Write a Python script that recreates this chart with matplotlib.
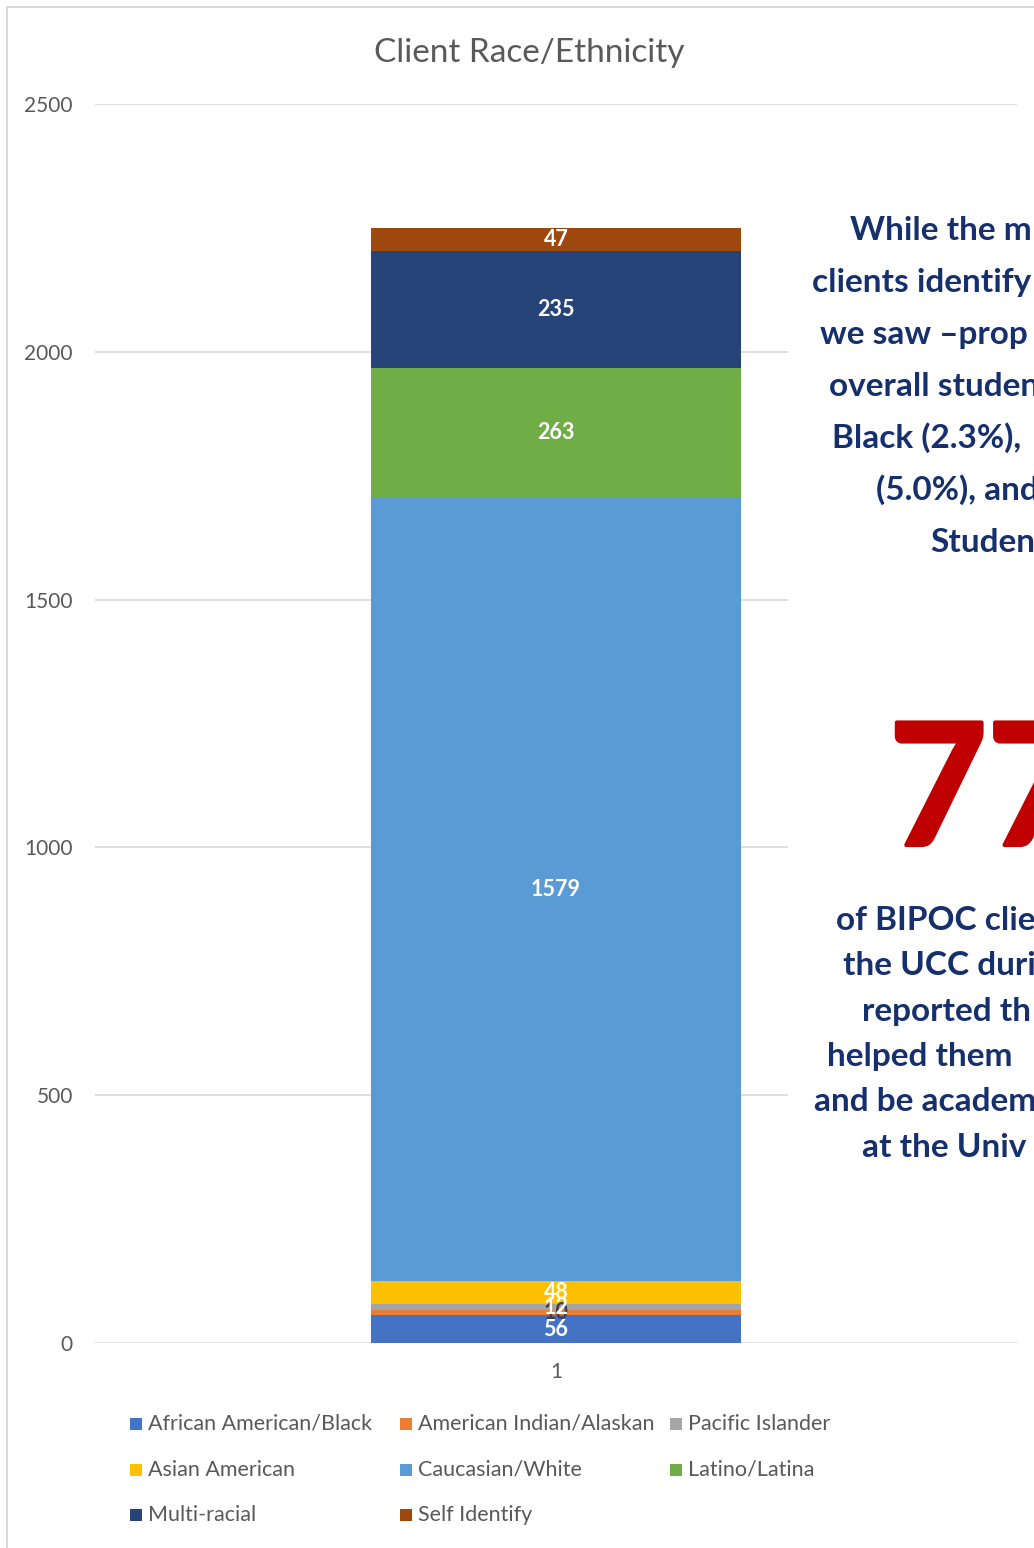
import matplotlib
matplotlib.use("Agg")
import matplotlib.pyplot as plt
from matplotlib.patches import Rectangle

plt.rcParams['font.family'] = ['Lato', 'DejaVu Sans']

# Client counts by race/ethnicity, stacked bottom to top
categories = ["African American/Black", "American Indian/Alaskan", "Pacific Islander",
              "Asian American", "Caucasian/White", "Latino/Latina",
              "Multi-racial", "Self Identify"]
counts = [56, 10, 12, 48, 1579, 263, 235, 47]
colors = ["#4472C4", "#ED7D31", "#A5A5A5", "#FFC000", "#5B9BD5",
          "#70AD47", "#264478", "#9E480E"]
label_colors = ["white", "#404040", "white", "white", "white", "white", "white", "white"]
x_labels = ["1"]
y_ticks = [0, 500, 1000, 1500, 2000, 2500]

# Legend order as it reads row by row
legend_order = [0, 1, 2, 3, 4, 5, 6, 7]

callout_top = ["While the m", "clients identify", "we saw \u2013prop", "overall studen",
               "Black (2.3%),", "(5.0%), and", "Studen"]
callout_big = "77"
callout_bottom = ["of BIPOC clie", "the UCC duri", "reported th", "helped them",
                  "and be academ", "at the Univ"]

W, H = 1034, 1548
fig = plt.figure(figsize=(W / 100, H / 100), dpi=100)
fig.patch.set_facecolor("white")

def fx(px):
    return px / W

def fy(py):
    return 1 - py / H

ax = fig.add_axes([fx(95), fy(1343), fx(1017) - fx(95), fy(104) - fy(1343)])
ax.set_ylim(0, 2500)
ax.set_xlim(-0.5, 0.5)

bottom = 0
for val, col, lc in zip(counts, colors, label_colors):
    bars = ax.bar(0, val, width=0.401, bottom=bottom, color=col, zorder=3)
    ax.bar_label(bars, labels=[str(val)], label_type="center", color=lc,
                 fontsize=15.5, fontweight="bold", zorder=4)
    bottom += val

ax.set_yticks(y_ticks)
ax.set_yticklabels([str(t) for t in y_ticks], color="#595959", fontsize=15)
ax.set_xticks([0])
ax.set_xticklabels(x_labels, color="#595959", fontsize=15)
ax.tick_params(axis="both", length=0)
ax.tick_params(axis="y", pad=16)
ax.tick_params(axis="x", pad=14)
ax.grid(axis="y", color="#D9D9D9", linewidth=1.2, zorder=0)
for s in ax.spines.values():
    s.set_visible(False)

fig.text(fx(529), fy(53), "Client Race/Ethnicity", ha="center", va="center",
         fontsize=24, color="#595959")

# Chart border
fig.patches.append(Rectangle((fx(7), fy(1560)), fx(1100), fy(7) - fy(1560),
                             transform=fig.transFigure, facecolor="none",
                             edgecolor="#D9D9D9", linewidth=1.5, zorder=0))

# White text box over the right side of the plot
fig.patches.append(Rectangle((fx(788), fy(1320)), fx(260), fy(130) - fy(1320),
                             transform=fig.transFigure, facecolor="white",
                             edgecolor="none", zorder=5))

navy = "#16306E"
top_x = [850, 812, 820, 829, 832, 876, 930]
top_base = [240, 292, 344, 396, 448, 500, 552]
for txt, x, y in zip(callout_top, top_x, top_base):
    fig.text(fx(x), fy(y), txt, ha="left", va="baseline", fontsize=24,
             fontweight="bold", color=navy, zorder=6)

fig.text(fx(889), fy(845), callout_big, ha="left", va="baseline", fontsize=122,
         fontweight="bold", color="#C00000", zorder=6,
         path_effects=[__import__("matplotlib.patheffects", fromlist=["withStroke"])
                       .withStroke(linewidth=3, foreground="#C00000")])

bot_x = [836, 843, 862, 827, 814, 862]
bot_base = [930, 975, 1021, 1066, 1111, 1157]
for txt, x, y in zip(callout_bottom, bot_x, bot_base):
    fig.text(fx(x), fy(y), txt, ha="left", va="baseline", fontsize=24,
             fontweight="bold", color=navy, zorder=6)

# Legend laid out in a fixed 3-column grid
col_x = [130, 400, 670]
row_y = [1424, 1470, 1515]
for k, i in enumerate(legend_order):
    r, c = divmod(k, 3)
    mx, my = col_x[c], row_y[r]
    fig.patches.append(Rectangle((fx(mx), fy(my + 6)), fx(12), fy(my - 6) - fy(my + 6),
                                 transform=fig.transFigure, facecolor=colors[i],
                                 edgecolor="none"))
    fig.text(fx(mx + 18), fy(my), categories[i], ha="left", va="center",
             fontsize=15.5, color="#595959")

fig.savefig("out.png", dpi=100)
